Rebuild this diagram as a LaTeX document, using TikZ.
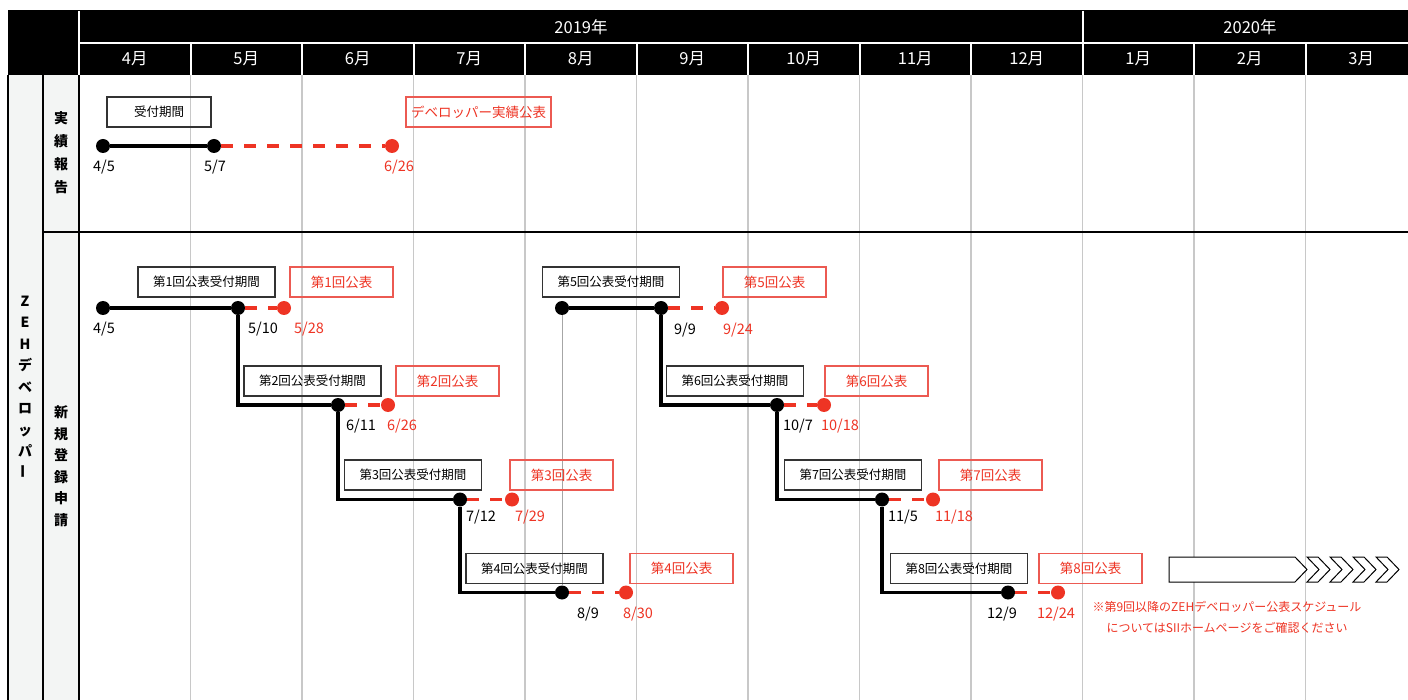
\documentclass[tikz,border=0pt]{standalone}
\usepackage{fontspec}
\setmainfont{Noto Sans CJK JP}
\usetikzlibrary{positioning}
\definecolor{zehred}{RGB}{238,52,36}
\definecolor{boxred}{RGB}{236,90,82}
\definecolor{gridgray}{RGB}{200,200,200}
\definecolor{sidegray}{RGB}{243,245,244}

\begin{document}
\begin{tikzpicture}[
    x=1pt, y=-1pt,
    dot/.style={circle, fill=black, inner sep=0pt, minimum size=14pt},
    pubdot/.style={dot, fill=zehred},
    recv/.style={draw=black!80, line width=1.1pt, minimum width=137pt, minimum height=30pt, inner sep=0pt, font=\fontsize{12.5}{14}\selectfont},
    pub/.style={draw=boxred, text=zehred, line width=1.1pt, minimum width=103pt, minimum height=30pt, inner sep=0pt, font=\fontsize{13.5}{15}\selectfont},
    period/.style={line width=3.2pt},
    wait/.style={line width=3.2pt, zehred, dash pattern=on 12pt off 11pt},
    daylbl/.style={font=\fontsize{14.5}{16}\selectfont},
    pubday/.style={daylbl, text=zehred},
    head/.style={text=white, font=\fontsize{16.5}{18}\selectfont},
    side/.style={align=center, font=\bfseries\fontsize{14}{21.5}\selectfont},
    chev/.style={draw, line width=1pt, fill=white}
  ]
    \useasboundingbox (0,0) rectangle (1408,700);
    \fill[white] (0,0) rectangle (1408,700);

    % grid and header
    \fill[sidegray] (8,75) rectangle (79,700);
    \foreach \m in {1,...,11}
      \draw[gridgray, line width=1.7pt] ({79+111.5*\m},75) -- ({79+111.5*\m},700);
    \fill[black] (8,10) rectangle (1408,75);
    \draw[white, line width=2pt] (79,11) -- (79,75) (79,43) -- (1408,43) (1082.5,11) -- (1082.5,43);
    \foreach \m in {1,...,11}
      \draw[white, line width=2pt] ({79+111.5*\m},43) -- ({79+111.5*\m},75);
    \node[head] (y2019) at (581,27) {2019年};
    \node[head] (y2020) at (1250,27) {2020年};
    \foreach \mon [count=\i from 0] in {4,5,6,7,8,9,10,11,12,1,2,3}
      \node[head] (m\i) at ({134.75+111.5*\i},59) {\mon 月};

    \draw[line width=2pt] (8,75) -- (8,700);
    \draw[line width=2.5pt] (43,75) -- (43,700);
    \draw[line width=2.5pt] (79,75) -- (79,700);
    \draw[line width=2pt] (43,232) -- (1408,232);

    \node[side] (devlbl) at (25,387) {Z\\E\\H\\デ\\ベ\\ロ\\ッ\\パ\\\rotatebox{90}{ー}};
    \node[side, font=\bfseries\fontsize{14}{23}\selectfont] (rptlbl) at (61,152.5) {実\\績\\報\\告};
    \node[side] (newlbl) at (61,466) {新\\規\\登\\録\\申\\請};

    % 実績報告
    \node[dot] (st0) at (103,146) {};
    \node[dot] (cl0) at (214,146) {};
    \node[pubdot] (an0) at (392,146) {};
    \draw[period] (st0) -- (cl0);
    \draw[wait] (cl0) -- (an0);
    \node[recv, minimum width=104pt] (rc0) at (159,112) {受付期間};
    \node[pub, minimum width=145pt] (pb0) at (478.5,112) {デベロッパー実績公表};
    \node[daylbl] (dst0) at (104,167) {4/5};
    \node[daylbl] (dcl0) at (215,167) {5/7};
    \node[pubday] (dan0) at (399,167) {6/26};

    % 新規登録申請
    \node[dot] (st1) at (103,308) {};
    \node[dot] (cl1) at (238,308) {};
    \node[pubdot] (an1) at (284,308) {};
    \node[dot] (cl2) at (338,405) {};
    \node[pubdot] (an2) at (388,405) {};
    \node[dot] (cl3) at (460,499.5) {};
    \node[pubdot] (an3) at (512,499.5) {};
    \node[dot] (cl4) at (562,592.5) {};
    \node[pubdot] (an4) at (626,592.5) {};
    \node[dot] (st5) at (562,308) {};
    \node[dot] (cl5) at (661,308) {};
    \node[pubdot] (an5) at (722,308) {};
    \node[dot] (cl6) at (777,405) {};
    \node[pubdot] (an6) at (824,405) {};
    \node[dot] (cl7) at (882,499.5) {};
    \node[pubdot] (an7) at (933,499.5) {};
    \node[dot] (cl8) at (1008,592.5) {};
    \node[pubdot] (an8) at (1058,592.5) {};

    \draw[period] (st1) -- (cl1);
    \draw[period] (cl1) |- (cl2);
    \draw[period] (cl2) |- (cl3);
    \draw[period] (cl3) |- (cl4);
    \draw[gray!70, line width=0.8pt] (cl4) -- (st5);
    \draw[period] (st5) -- (cl5);
    \draw[period] (cl5) |- (cl6);
    \draw[period] (cl6) |- (cl7);
    \draw[period] (cl7) |- (cl8);
    \draw[wait] (cl1) -- (an1);
    \draw[wait] (cl2) -- (an2);
    \draw[wait] (cl3) -- (an3);
    \draw[wait] (cl4) -- (an4);
    \draw[wait] (cl5) -- (an5);
    \draw[wait] (cl6) -- (an6);
    \draw[wait] (cl7) -- (an7);
    \draw[wait] (cl8) -- (an8);

    \node[recv] (rc1) at (206.5,282) {第1回公表受付期間};
    \node[pub] (pb1) at (341.5,282) {第1回公表};
    \node[recv] (rc2) at (312.5,381) {第2回公表受付期間};
    \node[pub] (pb2) at (447.5,381) {第2回公表};
    \node[recv] (rc3) at (413,475) {第3回公表受付期間};
    \node[pub] (pb3) at (561.5,475) {第3回公表};
    \node[recv] (rc4) at (534.5,568.5) {第4回公表受付期間};
    \node[pub] (pb4) at (681.5,568.5) {第4回公表};
    \node[recv] (rc5) at (611,282) {第5回公表受付期間};
    \node[pub] (pb5) at (774.5,282) {第5回公表};
    \node[recv] (rc6) at (735,381) {第6回公表受付期間};
    \node[pub] (pb6) at (876.5,381) {第6回公表};
    \node[recv] (rc7) at (853,475) {第7回公表受付期間};
    \node[pub] (pb7) at (990.5,475) {第7回公表};
    \node[recv] (rc8) at (959,568.5) {第8回公表受付期間};
    \node[pub] (pb8) at (1090.5,568.5) {第8回公表};

    \node[daylbl] (dst1) at (104,329) {4/5};
    \node[daylbl] (dcl1) at (263,329) {5/10};
    \node[pubday] (dan1) at (309,329) {5/28};
    \node[daylbl] (dcl2) at (361,426) {6/11};
    \node[pubday] (dan2) at (402,426) {6/26};
    \node[daylbl] (dcl3) at (481,517) {7/12};
    \node[pubday] (dan3) at (530,517) {7/29};
    \node[daylbl] (dcl4) at (588,614) {8/9};
    \node[pubday] (dan4) at (638,614) {8/30};
    \node[daylbl] (dcl5) at (685,330) {9/9};
    \node[pubday] (dan5) at (738,330) {9/24};
    \node[daylbl] (dcl6) at (798,426) {10/7};
    \node[pubday] (dan6) at (840,426) {10/18};
    \node[daylbl] (dcl7) at (903,517) {11/5};
    \node[pubday] (dan7) at (954,517) {11/18};
    \node[daylbl] (dcl8) at (1002,614) {12/9};
    \node[pubday] (dan8) at (1056,614) {12/24};

    % after round 8
    \draw[chev] (1169,557) -- (1295,557) -- (1307,569.5) -- (1295,582) -- (1169,582) -- cycle;
    \foreach \i in {0,...,3}
      \draw[chev] ({1307+23*\i},557) -- ++(11,0) -- ++(12,12.5) -- ++(-12,12.5) -- ++(-11,0) -- ++(12,-12.5) -- cycle;
    \node[text=zehred, align=center, font=\fontsize{12}{21}\selectfont] (note) at (1227,617)
      {※第9回以降のZEHデベロッパー公表スケジュール\\についてはSIIホームページをご確認ください};
\end{tikzpicture}
\end{document}
